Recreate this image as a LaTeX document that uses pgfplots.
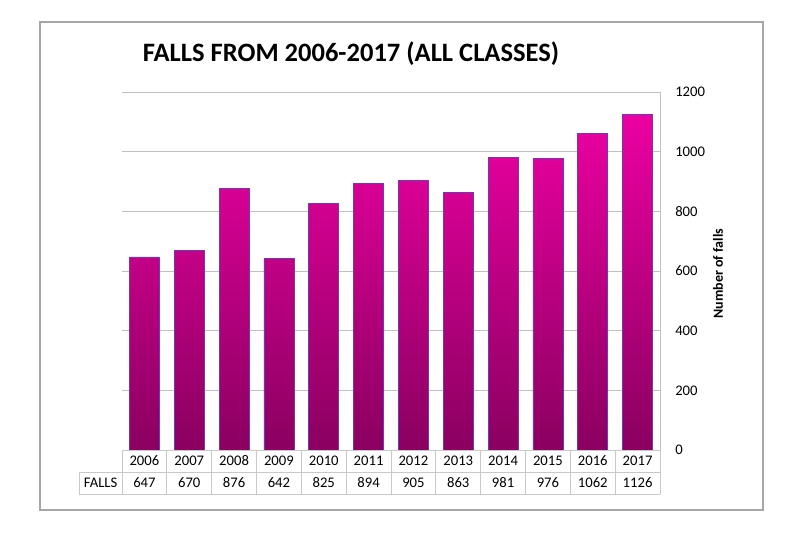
\documentclass[border=0pt]{standalone}
\usepackage{fontspec}
\setmainfont{Carlito}
\usepackage{pgfplots}
\pgfplotsset{compat=1.18}
\definecolor{bartop}{HTML}{EC00A2}
\definecolor{barmid}{HTML}{D40091}
\definecolor{barbot}{HTML}{8A0060}
\definecolor{baredge}{HTML}{6E3AB0}
\definecolor{gridc}{HTML}{C0C0C0}
\definecolor{tablec}{HTML}{C8C8C8}
\definecolor{framec}{HTML}{A6A6A6}
\begin{document}
\begin{tikzpicture}
\path[fill=white] (0,0) rectangle (600pt,408pt);
\draw[framec, line width=0.8pt] (30pt,25.5pt) rectangle (572.25pt,391.5pt);
\begin{axis}[
  at={(91.5pt,70.5pt)}, anchor=south west,
  width=403.5pt, height=268.5pt, scale only axis,
  xmin=-0.5, xmax=11.5, ymin=0, ymax=1200,
  axis line style={draw=none},
  ytick={0,200,...,1200},
  yticklabel pos=right,
  major tick length=0pt,
  ymajorgrids, grid style={gridc, line width=0.6pt},
  /pgf/number format/assume math mode=true,
  /pgf/number format/1000 sep={},
  yticklabel style={anchor=west, inner sep=0pt, xshift=11.25pt, font=\fontsize{11}{13}\selectfont},
  xtick={0,...,11},
  xticklabels={2006,2007,2008,2009,2010,2011,2012,2013,2014,2015,2016,2017},
  xticklabel style={anchor=center, inner sep=0pt, yshift=-8.25pt, font=\fontsize{11}{13}\selectfont},
  extra x ticks={0,...,11},
  extra x tick labels={647,670,876,642,825,894,905,863,981,976,1062,1126},
  extra x tick style={grid=none, xticklabel style={yshift=-16.5pt}},
  ylabel={Number of falls},
  every axis y label/.style={at={(axis description cs:1,0.5)}, xshift=43.5pt, yshift=-2pt, rotate=90, anchor=center, font=\bfseries\fontsize{10.5}{12}\selectfont},
  title={FALLS FROM 2006-2017 (ALL CLASSES)},
  title style={at={(axis description cs:0.4257,1)}, anchor=center, yshift=23pt, font=\bfseries\fontsize{19.9}{23}\selectfont},
  clip=false,
]
\addplot[ybar, bar width=22.5pt, draw=baredge, line width=0.6pt,
  top color=bartop, middle color=barmid, bottom color=barbot]
  coordinates {(0,647) (1,670) (2,876) (3,642) (4,825) (5,894) (6,905) (7,863) (8,981) (9,976) (10,1062) (11,1126)};
\end{axis}
% right axis line
\draw[gridc, line width=0.6pt] (495pt,70.5pt) -- (495pt,339pt);
% data table grid
\draw[tablec, line width=0.6pt] (91.5pt,70.5pt) -- (495pt,70.5pt);
\draw[tablec, line width=0.6pt] (59.5pt,54pt) -- (495pt,54pt);
\draw[tablec, line width=0.6pt] (59.5pt,37.5pt) -- (495pt,37.5pt);
\draw[tablec, line width=0.6pt] (59.5pt,54pt) -- (59.5pt,37.5pt);
\foreach \k in {0,...,12} {
  \draw[tablec, line width=0.6pt] ({91.5pt+\k*33.625pt},70.5pt) -- ({91.5pt+\k*33.625pt},37.5pt);
}
\node[font=\fontsize{11}{13}\selectfont, anchor=center] at (75.5pt,45.75pt) {FALLS};
\end{tikzpicture}
\end{document}
